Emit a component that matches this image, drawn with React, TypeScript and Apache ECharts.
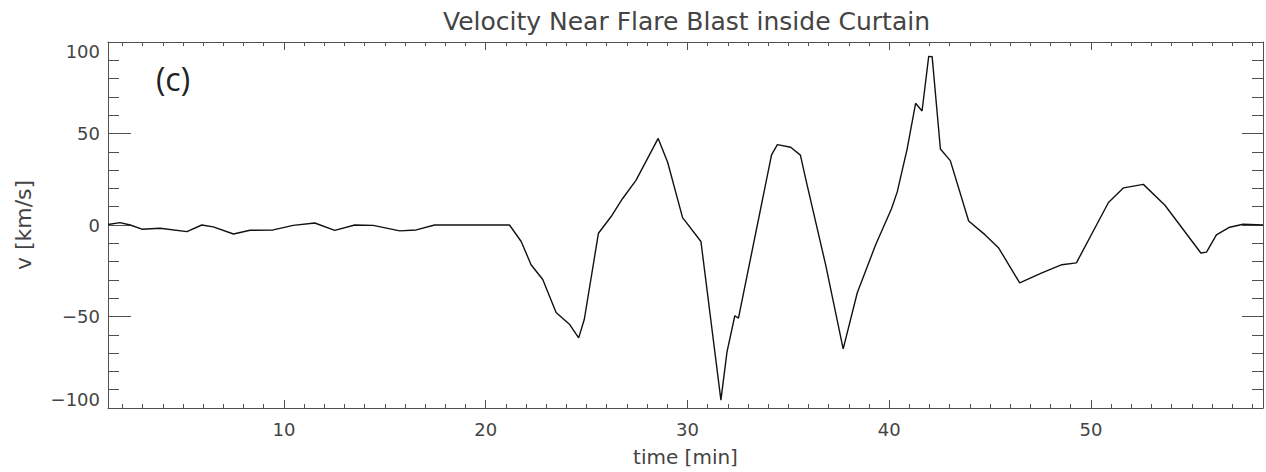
import React, { useEffect, useRef } from "react";
import * as echarts from "echarts";

const titleText = "Velocity Near Flare Blast inside Curtain";
const panelLabel = "(c)";
const xAxisName = "time [min]";
const yAxisName = "v [km/s]";

const timeMin = 1.28;
const timeMax = 58.53;
const velMin = -100;
const velMax = 100;

const times = [
  1.28, 1.88, 2.38, 2.96, 3.86, 5.19, 5.93, 6.5, 7.5, 8.32, 9.47, 10.46, 11.53,
  12.52, 13.51, 14.42, 15.74, 16.56, 17.47, 21.18, 21.76, 22.25, 22.83, 23.49,
  24.15, 24.61, 24.89, 25.59, 26.21, 26.79, 27.45, 28.55, 29.02, 29.76, 30.67,
  31.66, 31.96, 32.35, 32.53, 34.17, 34.46, 35.12, 35.6, 35.86, 36.85, 37.72,
  38.42, 39.33, 40.12, 40.4, 40.89, 41.31, 41.63, 41.96, 42.13, 42.54, 43.03,
  43.94, 44.76, 45.43, 46.47, 47.57, 48.56, 49.28, 50.87, 51.62, 52.6, 53.67,
  55.45, 55.73, 56.22, 56.88, 57.54, 58.53,
];

const velocities = [
  0.3, 1.3, 0, -2.3, -1.8, -3.6, 0, -1, -4.9, -2.9, -2.7, -0.2, 1.1, -2.9, 0,
  -0.2, -3.2, -2.7, 0, 0, -9, -21.7, -29.8, -47.8, -54.2, -61.7, -51.5, -4.5,
  4.5, 14.5, 24.4, 47.3, 34.3, 4, -9, -95.7, -69.5, -49.6, -50.9, 38.3, 43.9,
  42.5, 38.2, 25.3, -21.7, -67.7, -37, -10.8, 9, 18.1, 41.5, 66.5, 62.3, 92.1,
  92, 41.5, 35.2, 2.2, -5.4, -12.6, -31.6, -26.2, -21.7, -20.7, 12.3, 20.3,
  22.2, 10.8, -15.3, -14.8, -5.4, -1.2, 0.4, 0,
];

const FONT = "DejaVu Sans";
const AX = "#505050";
const TXT = "#444";

export default function App() {
  const ref = useRef<HTMLDivElement>(null);

  useEffect(() => {
    if (!ref.current) return;
    const chart = echarts.init(ref.current, undefined, { renderer: "svg" });
    const data = times.map((t, i) => [t, velocities[i]]);

    const xCommon = {
      type: "value" as const,
      min: timeMin,
      max: timeMax,
      splitNumber: 6,
      minInterval: 10,
      maxInterval: 10,
      splitLine: { show: false },
      minorSplitLine: { show: false },
      axisLine: { show: true, onZero: false, lineStyle: { color: AX, width: 1 } },
      axisTick: { show: true, inside: true, length: 8, lineStyle: { color: AX, width: 1 } },
      minorTick: { show: true, splitNumber: 10, length: 4, lineStyle: { color: AX, width: 1 } },
    };
    const yCommon = {
      type: "value" as const,
      min: velMin,
      max: velMax,
      interval: 50,
      splitLine: { show: false },
      minorSplitLine: { show: false },
      axisLine: { show: true, onZero: false, lineStyle: { color: AX, width: 1 } },
    };

    chart.setOption({
      animation: false,
      backgroundColor: "#ffffff",
      grid: { left: 108, right: 1, top: 42, bottom: 61, containLabel: false },
      xAxis: [
        {
          ...xCommon,
          position: "bottom",
          axisLabel: {
            show: true,
            fontSize: 18,
            fontFamily: FONT,
            color: TXT,
            margin: 12,
            formatter: (v: number) => (Math.abs(v % 10) < 1e-9 ? String(v) : ""),
          },
          name: xAxisName,
          nameLocation: "middle",
          nameGap: 39,
          nameTextStyle: { fontSize: 20, fontFamily: FONT, color: TXT },
        },
        {
          ...xCommon,
          position: "top",
          axisLabel: { show: false },
        },
      ],
      yAxis: [
        {
          ...yCommon,
          position: "left",
          axisTick: { show: true, inside: true, length: 23, lineStyle: { color: AX, width: 1 } },
          minorTick: { show: true, splitNumber: 5, length: 11, lineStyle: { color: AX, width: 1 } },
          axisLabel: {
            show: true,
            fontSize: 18,
            fontFamily: FONT,
            color: TXT,
            margin: 8,
            verticalAlignMaxLabel: "top",
            verticalAlignMinLabel: "bottom",
            formatter: (v: number) => (v < 0 ? "\u2212" + String(-v) : String(v)),
          },
          name: yAxisName,
          nameLocation: "middle",
          nameGap: 74,
          nameRotate: 90,
          nameTextStyle: { fontSize: 22, fontFamily: FONT, color: TXT },
        },
        {
          ...yCommon,
          position: "right",
          axisTick: { show: true, inside: true, length: 21, lineStyle: { color: AX, width: 1 } },
          minorTick: { show: true, splitNumber: 5, length: 11, lineStyle: { color: AX, width: 1 } },
          axisLabel: { show: false },
        },
      ],
      graphic: [
        {
          type: "text",
          x: 686.5,
          y: 21,
          style: {
            text: titleText,
            align: "center",
            verticalAlign: "middle",
            fontSize: 25,
            fontFamily: FONT,
            fill: TXT,
          },
        },
        {
          type: "text",
          x: 173,
          y: 78,
          z: 10,
          style: {
            text: panelLabel,
            align: "center",
            verticalAlign: "middle",
            fontSize: 32,
            fontFamily: "Open Sans",
            fill: "#222",
          },
        },
      ],
      series: [
        {
          type: "line",
          xAxisIndex: 0,
          yAxisIndex: 0,
          data,
          showSymbol: false,
          symbol: "none",
          lineStyle: { color: "#111", width: 1.4 },
          clip: true,
        },
      ],
    });

    return () => chart.dispose();
  }, []);

  return (
    <div
      ref={ref}
      style={{ position: "absolute", left: 0, top: 0, width: 1266, height: 472 }}
    />
  );
}
